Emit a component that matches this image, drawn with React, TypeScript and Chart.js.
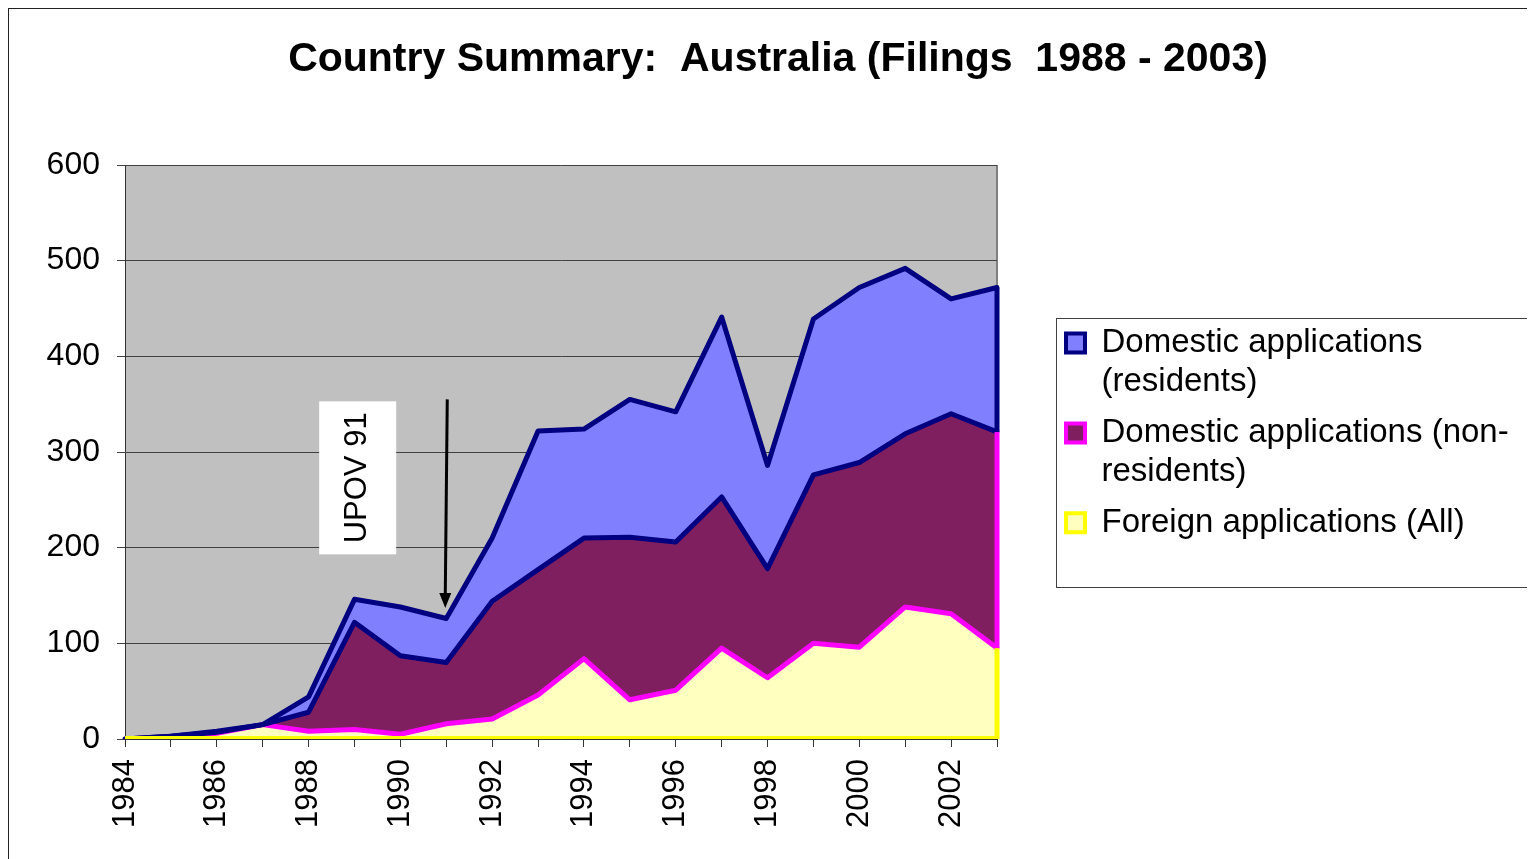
import React, { useEffect, useRef } from 'react';
import { Chart, registerables } from 'chart.js';

Chart.register(...registerables);

const FONT = '"Liberation Sans", Arial, Helvetica, sans-serif';

const TITLE = 'Country Summary:  Australia (Filings  1988 - 2003)';

const YEARS = [
  '1984', '1985', '1986', '1987', '1988', '1989', '1990', '1991', '1992', '1993',
  '1994', '1995', '1996', '1997', '1998', '1999', '2000', '2001', '2002', '2003',
];

// Foreign applications (All)
const FOREIGN = [0, 2, 6, 15, 8, 10, 5, 16, 21, 46, 84, 41, 51, 95, 64, 100, 96, 138, 131, 95];
// Domestic applications (non-residents)
const NON_RESIDENTS = [0, 1, 1, 0, 20, 112, 82, 64, 123, 131, 126, 170, 155, 158, 114, 176, 193, 181, 209, 226];
// Domestic applications (residents)
const RESIDENTS = [0, 0, 1, 0, 16, 24, 51, 46, 66, 145, 114, 144, 136, 188, 108, 163, 183, 173, 120, 151];

const Y_MIN = 0;
const Y_MAX = 600;
const Y_STEP = 100;

const LEGEND_LABELS = [
  ['Domestic applications', '(residents)'],
  ['Domestic applications (non-', 'residents)'],
  ['Foreign applications (All)'],
];
const SERIES_NAMES = [
  'Domestic applications (residents)',
  'Domestic applications (non-residents)',
  'Foreign applications (All)',
];
const FILLS = ['#8080FF', '#7F1F5F', '#FFFFC0'];
const STROKES = ['#000080', '#FF00FF', '#FFFF00'];

// annotation: label box and arrow (data coordinates)
const NOTE_TEXT = 'UPOV 91';
const NOTE_X_INDEX = 5.07;
const NOTE_VALUE = 273;
const ARROW_X_INDEX = 7;
const ARROW_FROM = 355;
const ARROW_TO = 137;

// layout targets (canvas px)
const PLOT_RIGHT = 988;
const LEGEND_GAP = 57;

export default function App() {
  const ref = useRef<HTMLCanvasElement>(null);

  useEffect(() => {
    document.documentElement.style.overflow = 'hidden';
    document.body.style.overflow = 'hidden';
    Chart.defaults.font.family = FONT;

    const MID = FOREIGN.map((v, i) => v + NON_RESIDENTS[i]);
    const TOP = MID.map((v, i) => v + RESIDENTS[i]);

    const backdrop = {
      id: 'backdrop',
      beforeDraw(chart: any) {
        const { ctx, chartArea: a, width, height } = chart;
        ctx.save();
        ctx.fillStyle = '#ffffff';
        ctx.fillRect(0, 0, width, height);
        ctx.fillStyle = '#C0C0C0';
        ctx.fillRect(a.left, a.top, a.right - a.left, a.bottom - a.top);
        ctx.strokeStyle = '#808080';
        ctx.lineWidth = 2;
        ctx.beginPath();
        ctx.moveTo(a.right, a.top);
        ctx.lineTo(a.right, a.bottom);
        ctx.stroke();
        ctx.restore();
      },
    };

    const edges = {
      id: 'edges',
      afterDatasetsDraw(chart: any) {
        const { ctx } = chart;
        const xs = chart.scales.x;
        const ys = chart.scales.y;
        const n = YEARS.length - 1;
        const x = xs.getPixelForValue(n);
        const y0 = ys.getPixelForValue(0);
        ctx.save();
        ctx.lineCap = 'butt';
        ctx.strokeStyle = '#FFFF00';
        ctx.lineWidth = 3;
        ctx.beginPath();
        ctx.moveTo(xs.getPixelForValue(0), y0 - 1.5);
        ctx.lineTo(x, y0 - 1.5);
        ctx.stroke();
        const seg = (from: number, to: number, color: string) => {
          ctx.strokeStyle = color;
          ctx.lineWidth = 5;
          ctx.beginPath();
          ctx.moveTo(x, ys.getPixelForValue(from));
          ctx.lineTo(x, ys.getPixelForValue(to));
          ctx.stroke();
        };
        seg(0, FOREIGN[n], '#FFFF00');
        seg(FOREIGN[n], MID[n], '#FF00FF');
        seg(MID[n], TOP[n], '#000080');
        ctx.restore();
      },
    };

    const note = {
      id: 'note',
      afterDatasetsDraw(chart: any) {
        const { ctx } = chart;
        const xs = chart.scales.x;
        const ys = chart.scales.y;
        const cx = xs.getPixelForValue(NOTE_X_INDEX);
        const cy = ys.getPixelForValue(NOTE_VALUE);
        ctx.save();
        ctx.fillStyle = '#ffffff';
        ctx.fillRect(cx - 38.5, cy - 76.5, 77, 153);
        ctx.translate(cx, cy);
        ctx.rotate(-Math.PI / 2);
        ctx.fillStyle = '#000000';
        ctx.font = `31px ${FONT}`;
        ctx.textAlign = 'center';
        ctx.textBaseline = 'middle';
        ctx.fillText(NOTE_TEXT, 0, 0);
        ctx.restore();

        const ax = xs.getPixelForValue(ARROW_X_INDEX) - 1;
        const ay1 = ys.getPixelForValue(ARROW_FROM);
        const ay2 = ys.getPixelForValue(ARROW_TO);
        ctx.save();
        ctx.strokeStyle = '#000000';
        ctx.lineWidth = 3;
        ctx.beginPath();
        ctx.moveTo(ax + 2, ay1);
        ctx.lineTo(ax, ay2 - 12);
        ctx.stroke();
        ctx.fillStyle = '#000000';
        ctx.beginPath();
        ctx.moveTo(ax, ay2);
        ctx.lineTo(ax - 6, ay2 - 15);
        ctx.lineTo(ax + 6, ay2 - 15);
        ctx.closePath();
        ctx.fill();
        ctx.restore();
      },
    };

    const legendFrame = {
      id: 'legendFrame',
      afterDraw(chart: any) {
        const { ctx } = chart;
        const l = chart.legend;
        ctx.save();
        ctx.strokeStyle = '#404040';
        ctx.lineWidth = 1;
        ctx.strokeRect(Math.round(l.left) + 2.5, 309.5, 474, 269);
        ctx.restore();
      },
    };

    const common = {
      borderWidth: 5,
      pointRadius: 0,
      pointHoverRadius: 0,
      tension: 0,
      borderJoinStyle: 'round' as const,
      borderCapStyle: 'round' as const,
      xAxisID: 'x',
      yAxisID: 'y',
    };

    const chart = new Chart(ref.current as HTMLCanvasElement, {
      type: 'line',
      data: {
        labels: YEARS,
        datasets: [
          { ...common, label: SERIES_NAMES[0], data: TOP, borderColor: '#000080', backgroundColor: FILLS[0], fill: '+1' },
          { ...common, label: SERIES_NAMES[1], data: MID, borderColor: '#000080', backgroundColor: FILLS[1], fill: '+1' },
          { ...common, label: SERIES_NAMES[2], data: FOREIGN, borderColor: '#FF00FF', backgroundColor: FILLS[2], fill: 'origin' },
        ],
      },
      options: {
        responsive: true,
        maintainAspectRatio: false,
        animation: false,
        events: [],
        layout: { padding: 0 },
        scales: {
          x: {
            type: 'category',
            offset: false,
            grid: { display: true, drawOnChartArea: false, drawTicks: true, tickLength: 8, color: '#333333', lineWidth: 1 },
            border: { display: true, color: '#333333', width: 1 },
            ticks: {
              autoSkip: false,
              maxRotation: 90,
              minRotation: 90,
              padding: 12,
              color: '#000000',
              font: { size: 31 },
              callback: (_v: any, i: number) => (i % 2 === 0 ? YEARS[i] : ''),
            },
            afterFit: (s: any) => { s.height = 138; },
          },
          y: {
            type: 'linear',
            position: 'left',
            min: Y_MIN,
            max: Y_MAX,
            grid: { color: '#404040', lineWidth: 1, tickLength: 8, drawTicks: true },
            border: { display: true, color: '#333333', width: 1 },
            ticks: { stepSize: Y_STEP, padding: 17, color: '#000000', font: { size: 32 } },
            afterFit: (s: any) => { s.width = 116; },
          },
          y1: {
            type: 'linear',
            position: 'right',
            display: true,
            weight: 0,
            grid: { display: false, drawTicks: false },
            border: { display: false },
            ticks: { display: false },
            afterFit: (s: any) => { s.width = LEGEND_GAP; },
          },
          y2: {
            type: 'linear',
            position: 'right',
            display: true,
            weight: 2000,
            grid: { display: false, drawTicks: false },
            border: { display: false },
            ticks: { display: false },
            afterFit: (s: any) => {
              const lw = s.chart.legend ? s.chart.legend.width : 0;
              s.width = Math.max(0, s.chart.width - PLOT_RIGHT - LEGEND_GAP - lw);
            },
          },
        },
        plugins: {
          filler: { drawTime: 'beforeDatasetsDraw' },
          tooltip: { enabled: false },
          title: {
            display: true,
            text: TITLE,
            color: '#000000',
            font: { size: 41, weight: 'bold', lineHeight: 1 },
            padding: { top: 30.5, bottom: 84.5 },
          },
          legend: {
            display: true,
            position: 'right',
            align: 'start',
            fullSize: false,
            maxWidth: 700,
            title: { display: true, text: ' ', padding: { top: 139.5, bottom: 0 }, font: { size: 10, lineHeight: 1 } },
            labels: {
              boxWidth: 19,
              boxHeight: 19,
              padding: 12,
              color: '#000000',
              font: { size: 33, lineHeight: 1.18 },
              generateLabels: () =>
                LEGEND_LABELS.map((text, i) => ({
                  text: text as any,
                  fillStyle: FILLS[i],
                  strokeStyle: STROKES[i],
                  lineWidth: 4,
                  hidden: false,
                  datasetIndex: i,
                  fontColor: '#000000',
                })),
            },
          },
        },
      },
      plugins: [backdrop, edges, note, legendFrame],
    } as any);

    return () => chart.destroy();
  }, []);

  return (
    <div style={{ width: 1540, height: 870, border: '1px solid #222', boxSizing: 'border-box', background: '#fff' }}>
      <div style={{ position: 'relative', width: 1538, height: 868 }}>
        <canvas ref={ref} />
      </div>
    </div>
  );
}
